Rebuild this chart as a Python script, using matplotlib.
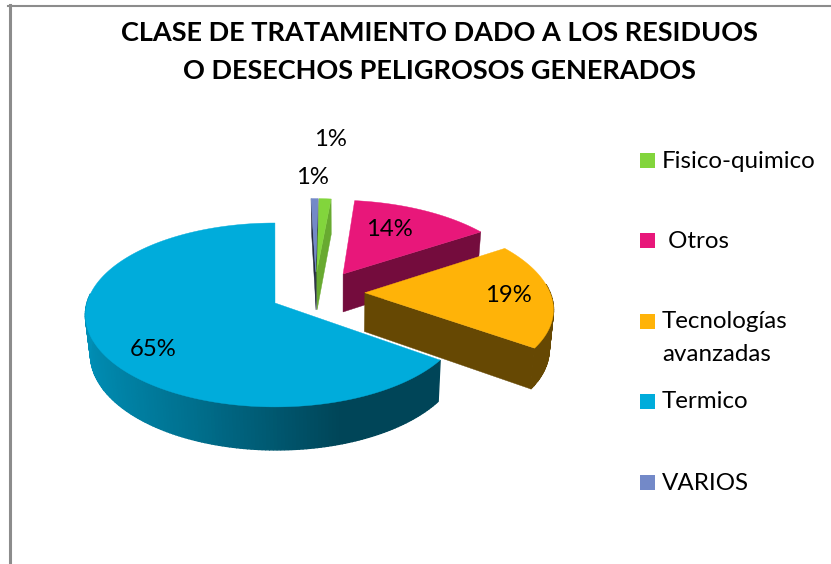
import numpy as np
import matplotlib
matplotlib.use("Agg")
import matplotlib.pyplot as plt
from matplotlib.patches import Rectangle

categories = ["Fisico-quimico", " Otros", "Tecnologías\navanzadas", "Termico", "VARIOS"]
values = [1.2, 14, 19, 65, 0.7]
colors = ["#82D53C", "#E8177A", "#FFB308", "#00ACDB", "#7389C8"]
title_lines = "CLASE DE TRATAMIENTO DADO A LOS RESIDUOS\nO DESECHOS PELIGROSOS GENERADOS"

# styling / geometry
start_angle = 2.5
explode_uv = [(0.232, 0.36), (0.378, 0.335), (0.485, 0.115), (0.0, 0.0), (0.226, 0.36)]
wall_factor = [0.8, 0.5, 0.4, 0.4, 0.3]
draw_order = [4, 0, 1, 3, 2]
label_xy = [(330, 139), (389, 229), (508, 296), (153, 350), (312, 178)]
legend_y = [161, 241, 322, 402, 483]
CX, CY, RX, RY, K = 275.0, 303.0, 188.0, 90.4, 0.13

plt.rcParams["font.family"] = ["Lato", "DejaVu Sans"]
fig = plt.figure(figsize=(8.31, 5.64), dpi=100)
ax = fig.add_axes([0, 0, 1, 1])
ax.set_xlim(0, 831)
ax.set_ylim(564, 0)
ax.axis("off")


def top_xy(u, v):
    d = 1 + K * v
    return CX + RX * u / d, CY - RY * v / d


def low_xy(x, y):
    return x + (340 - x) * 0.02, y + 38 + (y - 274) * 0.0376


def darker(c, f):
    return tuple(np.array(matplotlib.colors.to_rgb(c)) * f)


def arc_shade(u):
    return float(np.interp(u, [-1.0, -0.4, 0.3, 1.0], [0.83, 0.65, 0.40, 0.40]))


fractions = np.array(values, float) / sum(values)
ends = start_angle + np.cumsum(fractions) * 360
starts = ends - fractions * 360

for z, i in enumerate(draw_order):
    th = np.radians(np.linspace(starts[i], ends[i], max(int(fractions[i] * 360), 4) + 1))
    u0, v0 = explode_uv[i]
    px, py = top_xy(u0 + np.sin(th), v0 + np.cos(th))
    ax0 = top_xy(u0, v0)
    group_z = 2 + z
    # outer side, shaded segment by segment, only where it faces the viewer
    lx, ly = low_xy(px, py)
    for j in range(len(th) - 1):
        mid = (th[j] + th[j + 1]) / 2
        if np.cos(mid) > 0.1:
            continue
        shade = arc_shade(np.sin(mid)) if i == 3 else wall_factor[i]
        ax.fill([px[j], px[j + 1], lx[j + 1], lx[j]], [py[j], py[j + 1], ly[j + 1], ly[j]],
                color=darker(colors[i], shade), lw=1.0, zorder=group_z)
    # radial walls facing the viewer
    col = darker(colors[i], wall_factor[i])
    for idx, visible in ((0, np.sin(np.radians(starts[i])) < -1e-6),
                         (-1, np.sin(np.radians(ends[i])) > 1e-6)):
        if visible:
            xs = [ax0[0], px[idx], low_xy(px[idx], py[idx])[0], low_xy(*ax0)[0]]
            ys = [ax0[1], py[idx], low_xy(px[idx], py[idx])[1], low_xy(*ax0)[1]]
            ax.fill(xs, ys, color=col, lw=0.3, zorder=group_z)
    ax.fill(np.r_[ax0[0], px], np.r_[ax0[1], py], color=colors[i], lw=0.3, zorder=group_z + 0.5)

for v, (x, y) in zip(values, label_xy):
    ax.text(x, y, f"{round(v)}%", ha="center", va="center", fontsize=17.2, color="black", zorder=20)

for name, col, y in zip(categories, colors, legend_y):
    ax.add_patch(Rectangle((640, y - 8), 15, 15, color=col, lw=0, zorder=20))
    ax.text(662, y - 10.5, name, ha="left", va="top", fontsize=17.4, color="black",
            linespacing=1.65, zorder=20)

ax.text(439, 52, title_lines, ha="center", va="center", fontsize=19.5, fontweight="bold",
        linespacing=1.72, color="black", zorder=20)

ax.plot([9.5, 9.5], [5, 564], color="#8C8C8C", lw=2.2, zorder=1)
ax.plot([8, 831], [5.5, 5.5], color="#8C8C8C", lw=1.5, zorder=1)

fig.savefig("out.png", dpi=100)
